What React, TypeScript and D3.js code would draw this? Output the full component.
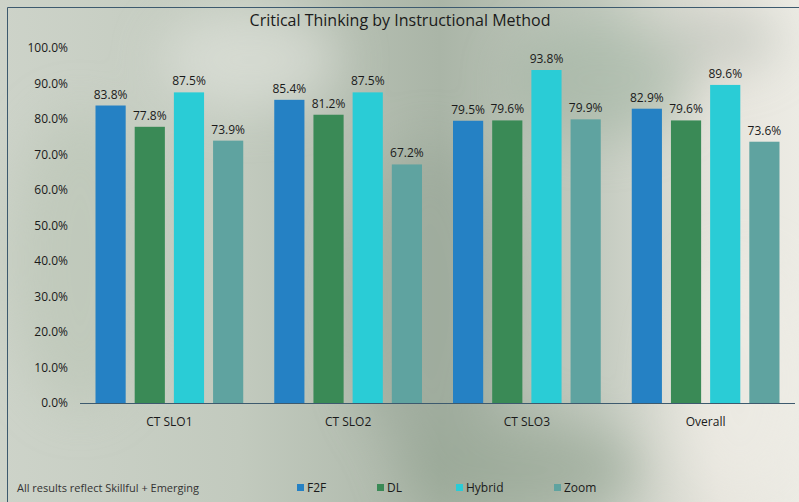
import * as d3 from 'd3';

const categories = ['CT SLO1', 'CT SLO2', 'CT SLO3', 'Overall'];
const seriesNames = ['F2F', 'DL', 'Hybrid', 'Zoom'];
const seriesColors = ['#2581c4', '#3a8a56', '#2accd6', '#5fa3a0'];
const f2f = [83.8, 85.4, 79.5, 82.9];
const dl = [77.8, 81.2, 79.6, 79.6];
const hybrid = [87.5, 87.5, 93.8, 89.6];
const zoom = [73.9, 67.2, 79.9, 73.6];
const yTicks = [0, 10, 20, 30, 40, 50, 60, 70, 80, 90, 100];

const W = 799;
const H = 502;
const font = "'Open Sans', 'Noto Sans', sans-serif";

export default function App() {
  const series = [f2f, dl, hybrid, zoom];
  const x0 = d3.scaleBand<string>().domain(categories).range([80, 795]).paddingInner(0).paddingOuter(0);
  const x1 = d3.scaleBand<string>().domain(seriesNames).range([11, x0.bandwidth() - 11]).paddingInner(0.23).paddingOuter(0.115);
  const y = d3.scaleLinear().domain([0, 100]).range([403, 48]);

  return (
    <svg width={W} height={H} style={{ position: 'absolute', left: 0, top: 0, fontFamily: font }}>
      <defs>
        <linearGradient id="bg" x1="0" y1="0" x2="1" y2="0">
          <stop offset="0" stopColor="#cdd3c9" />
          <stop offset="0.3" stopColor="#c2cabe" />
          <stop offset="0.55" stopColor="#aab5a7" />
          <stop offset="0.75" stopColor="#c4cbc0" />
          <stop offset="0.9" stopColor="#e6e4dc" />
          <stop offset="1" stopColor="#ecebe4" />
        </linearGradient>
        <filter id="blur" x="-50%" y="-50%" width="200%" height="200%">
          <feGaussianBlur stdDeviation="25" />
        </filter>
      </defs>
      <rect x={0} y={0} width={W} height={H} fill="url(#bg)" />
      <g filter="url(#blur)" opacity={0.55}>
        <ellipse cx={80} cy={260} rx={70} ry={150} fill="#b9c4b4" />
        <ellipse cx={250} cy={60} rx={90} ry={50} fill="#e6e8e2" />
        <ellipse cx={430} cy={300} rx={80} ry={160} fill="#97a596" />
        <ellipse cx={600} cy={80} rx={90} ry={60} fill="#9fb2a0" />
        <ellipse cx={520} cy={470} rx={120} ry={50} fill="#8fa08d" />
        <ellipse cx={740} cy={380} rx={70} ry={120} fill="#efede6" />
        <ellipse cx={720} cy={40} rx={60} ry={30} fill="#b4bbb2" />
      </g>
      <line x1={7.5} y1={7.5} x2={W} y2={7.5} stroke="#3d5a6e" strokeWidth={1} />
      <line x1={7.5} y1={7.5} x2={7.5} y2={H} stroke="#3d5a6e" strokeWidth={1} />

      <text x={400} y={26} textAnchor="middle" fontSize={16} fill="#1a1a1a">
        Critical Thinking by Instructional Method
      </text>

      {yTicks.map(t => (
        <text key={t} x={68} y={y(t) + 4} textAnchor="end" fontSize={12} fill="#1a1a1a">
          {t.toFixed(1)}%
        </text>
      ))}

      {categories.map((c, ci) => (
        <g key={c} transform={`translate(${x0(c)},0)`}>
          {seriesNames.map((s, si) => {
            const v = series[si][ci];
            const bx = x1(s)!;
            return (
              <g key={s}>
                <rect x={bx} y={y(v)} width={x1.bandwidth()} height={y(0) - y(v)} fill={seriesColors[si]} />
                <text x={bx + x1.bandwidth() / 2} y={y(v) - 7} textAnchor="middle" fontSize={12} fill="#1a1a1a">
                  {v.toFixed(1)}%
                </text>
              </g>
            );
          })}
          <text x={x0.bandwidth() / 2} y={426} textAnchor="middle" fontSize={12} fill="#1a1a1a">
            {c}
          </text>
        </g>
      ))}
      <line x1={80} y1={403.5} x2={795} y2={403.5} stroke="#3d5a6e" strokeWidth={1.2} />

      <text x={17} y={492} fontSize={11} fill="#333">All results reflect Skillful + Emerging</text>
      {seriesNames.map((s, i) => {
        const lx = [297, 377, 456, 554][i];
        return (
          <g key={s}>
            <rect x={lx} y={484} width={7} height={7} fill={seriesColors[i]} />
            <text x={lx + 10} y={492} fontSize={12} fill="#1a1a1a">{s}</text>
          </g>
        );
      })}
    </svg>
  );
}
